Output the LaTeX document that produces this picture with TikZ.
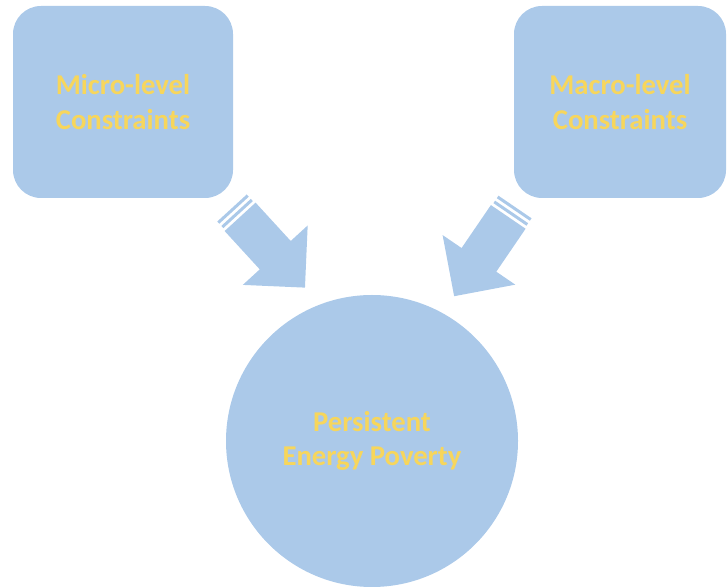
\documentclass[tikz,border=0pt]{standalone}
\usepackage{fontspec}
\setmainfont{Carlito}
\usetikzlibrary{positioning}
\definecolor{boxblue}{RGB}{171,201,233}
\definecolor{textgold}{RGB}{247,214,92}

\tikzset{
	stripedarrow/.pic={
		\fill[boxblue] (0,-20) rectangle (3,20);
		\fill[boxblue] (6,-20) rectangle (9,20);
		\fill[boxblue] (12,-21) -- (64,-21) -- (64,-44) -- (108,0) -- (64,44) -- (64,21) -- (12,21) -- cycle;
	}
}

\begin{document}
\begin{tikzpicture}[x=0.75pt,y=0.75pt,%
			every node/.style={text=textgold,font=\bfseries\fontsize{21.5}{26}\selectfont,align=center},
			levelbox/.style={fill=boxblue,rounded corners=21pt,inner sep=0pt},
			centre/.style={circle,fill=boxblue,minimum size=219pt,inner sep=0pt}]
			\useasboundingbox (0,0) rectangle (727,588);
			\node[levelbox,minimum width=165pt,minimum height=144pt] (micro) at (123,486) {Micro-level\\Constraints};
			\node[levelbox,minimum width=159pt,minimum height=144pt] (macro) at (620,486) {Macro-level\\Constraints};
			\node[centre] (poverty) at (372,147) {Persistent\\Energy Poverty};
			\pic[rotate=-47.5] at (232,380) {stripedarrow};
			\pic[rotate=-124.3] at (515,381) {stripedarrow};
		\end{tikzpicture}
\end{document}
